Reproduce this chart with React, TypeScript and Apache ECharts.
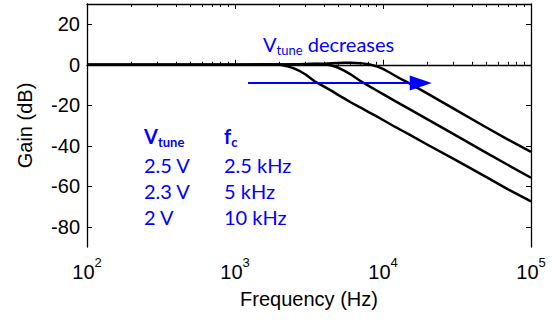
import React, { useEffect, useRef } from "react";
import * as echarts from "echarts";

// Frequencies (Hz) at which the curves were read
const freqHz = [100, 200, 500, 1000, 1500, 2000, 2250, 2500, 2750, 3000, 3500, 4000, 4500, 5000, 5500, 6000, 7000, 8000, 9000, 10000, 11000, 12000, 13500, 15000, 20000, 30000, 50000, 70000, 100000];
// Gain (dB) for Vtune = 2.5 V (fc = 2.5 kHz)
const gain25V = [0, 0, 0, 0, 0.2, 0.1, -0.7, -1.8, -3.2, -4.8, -8.5, -10.8, -12.9, -15, -16.7, -18.4, -21, -23.4, -25.4, -27.3, -29, -30.6, -32.6, -34.4, -39.5, -46.5, -55.5, -61.5, -67.5];
// Gain (dB) for Vtune = 2.3 V (fc = 5 kHz)
const gain23V = [0, 0, 0, 0, 0, 0, 0.1, 0.2, 0.3, 0.4, 0.5, 0.4, -0.4, -1.5, -3, -4.6, -7.9, -10.4, -12.6, -14.5, -16.2, -17.8, -19.9, -21.8, -27, -34.3, -43.5, -49.5, -55.8];
// Gain (dB) for Vtune = 2 V (fc = 10 kHz)
const gain2V = [0, 0, 0, 0, 0, 0.1, 0.1, 0.2, 0.2, 0.3, 0.4, 0.5, 0.7, 0.9, 1.0, 1.0, 0.8, 0.3, -0.7, -2, -3.7, -5.3, -7.4, -9.1, -14.3, -21.7, -31, -37, -43];

const xMajorTicks = [100, 1000, 10000, 100000];
const xMinorTicks = [200, 300, 400, 500, 600, 700, 800, 900, 2000, 3000, 4000, 5000, 6000, 7000, 8000, 9000, 20000, 30000, 40000, 50000, 60000, 70000, 80000, 90000];
const yTicks = [-80, -60, -40, -20, 0, 20];

// Annotation
const arrowFrom = [1225, -9];
const arrowTo = [18000, -9];
const vtuneLabels = ["2.5 V", "2.3 V", "2 V"];
const fcLabels = ["2.5 kHz", "5 kHz", "10 kHz"];

const BLUE = "#0000ff";
const AXIS_FONT = "'Liberation Sans', Arial, sans-serif";
const NOTE_FONT = "Lato, 'Noto Sans', sans-serif";

export default function App() {
  const ref = useRef<HTMLDivElement>(null);

  useEffect(() => {
    if (!ref.current) return;
    const chart = echarts.init(ref.current, undefined, { renderer: "svg" });
    const axisLineStyle = { color: "#000", width: 1.3 };

    const mkSeries = (g: number[], extra: any = {}) => ({
      type: "line",
      data: freqHz.map((f, i) => [f, g[i]]),
      showSymbol: false,
      symbol: "none",
      lineStyle: { color: "#000", width: 2.5, join: "round" },
      xAxisIndex: 0,
      yAxisIndex: 0,
      z: 3,
      ...extra,
    });

    const xBase = {
      type: "log",
      logBase: 10,
      min: 100,
      max: 100000,
      splitLine: { show: false },
      minorSplitLine: { show: false },
    };

    const rowY = [164.5, 190.8, 216.5];
    const noteRich = (bold: boolean) => ({
      m: { fontSize: 20, fontWeight: bold ? "bold" : "normal", fontFamily: NOTE_FONT, fill: BLUE, color: BLUE, lineHeight: 24 },
      s: { fontSize: 13, fontWeight: bold ? "bold" : "normal", fontFamily: NOTE_FONT, fill: BLUE, color: BLUE, lineHeight: 14, verticalAlign: "bottom" },
    });

    chart.setOption({
      animation: false,
      backgroundColor: "#fff",
      grid: { left: 87, right: 23, top: 4, bottom: 73, containLabel: false },
      xAxis: [
        {
          ...xBase,
          position: "bottom",
          axisLine: { show: true, lineStyle: axisLineStyle },
          axisTick: { show: true, inside: true, length: 5, customValues: xMajorTicks, lineStyle: { color: "#000", width: 1 } },
          axisLabel: {
            show: true,
            margin: 9,
            formatter: (v: number) => `{b|10}{s|${Math.round(Math.log10(v))}}`,
            rich: {
              b: { fontSize: 20, fontFamily: AXIS_FONT, color: "#000", lineHeight: 32 },
              s: { fontSize: 13, fontFamily: AXIS_FONT, color: "#000", verticalAlign: "top", lineHeight: 16 },
            },
          },
          name: "Frequency (Hz)",
          nameLocation: "middle",
          nameGap: 42,
          nameTextStyle: { fontSize: 20, fontFamily: AXIS_FONT, color: "#000" },
        },
        {
          ...xBase,
          position: "bottom",
          axisLine: { show: false },
          axisTick: { show: true, inside: true, length: 3, customValues: xMinorTicks, lineStyle: { color: "#000", width: 1 } },
          axisLabel: { show: false },
        },
        {
          ...xBase,
          position: "top",
          axisLine: { show: true, lineStyle: axisLineStyle },
          axisTick: { show: true, inside: true, length: 5, customValues: xMajorTicks, lineStyle: { color: "#000", width: 1 } },
          axisLabel: { show: false },
        },
        {
          ...xBase,
          position: "top",
          axisLine: { show: false },
          axisTick: { show: true, inside: true, length: 3, customValues: xMinorTicks, lineStyle: { color: "#000", width: 1 } },
          axisLabel: { show: false },
        },
      ],
      yAxis: [
        {
          type: "value",
          min: -90,
          max: 30,
          position: "left",
          splitLine: { show: false },
          axisLine: { show: true, lineStyle: axisLineStyle },
          axisTick: { show: true, inside: true, length: 5, customValues: yTicks, lineStyle: { color: "#000", width: 1 } },
          axisLabel: { show: true, customValues: yTicks, margin: 7, fontSize: 20, fontFamily: AXIS_FONT, color: "#000" },
          name: "Gain (dB)",
          nameLocation: "middle",
          nameGap: 52,
          nameRotate: 90,
          nameTextStyle: { fontSize: 20, fontFamily: AXIS_FONT, color: "#000" },
        },
        {
          type: "value",
          min: -90,
          max: 30,
          position: "right",
          splitLine: { show: false },
          axisLine: { show: true, lineStyle: axisLineStyle },
          axisTick: { show: true, inside: true, length: 5, customValues: yTicks, lineStyle: { color: "#000", width: 1 } },
          axisLabel: { show: false },
        },
      ],
      series: [
        mkSeries(gain25V),
        mkSeries(gain23V),
        mkSeries(gain2V, {
          markLine: {
            silent: true,
            symbol: ["none", "triangle"],
            symbolSize: [15, 22],
            label: { show: false },
            lineStyle: { color: BLUE, width: 2, type: "solid" },
            itemStyle: { color: BLUE },
            data: [[{ coord: arrowFrom }, { coord: arrowTo }]],
          },
        }),
      ],
      graphic: [
        {
          type: "text",
          x: 263,
          y: 44,
          style: { text: "{m|V}{s|tune}{m| decreases}", fill: BLUE, verticalAlign: "middle", rich: noteRich(false) },
        },
        {
          type: "text",
          x: 144,
          y: 136,
          style: { text: "{m|V}{s|tune}", fill: BLUE, verticalAlign: "middle", rich: noteRich(true) },
        },
        {
          type: "text",
          x: 224,
          y: 136,
          style: { text: "{m|f}{s|c}", fill: BLUE, verticalAlign: "middle", rich: noteRich(true) },
        },
        ...vtuneLabels.map((t, i) => ({
          type: "text",
          x: 144,
          y: rowY[i],
          style: { text: t, fill: BLUE, font: `20px ${NOTE_FONT}`, verticalAlign: "middle" },
        })),
        ...fcLabels.map((t, i) => ({
          type: "text",
          x: 224,
          y: rowY[i],
          style: { text: t, fill: BLUE, font: `20px ${NOTE_FONT}`, verticalAlign: "middle" },
        })),
      ],
    });

    return () => chart.dispose();
  }, []);

  return (
    <div
      ref={ref}
      style={{ position: "absolute", left: 0, top: 0, width: 554, height: 320, background: "#fff" }}
    />
  );
}
